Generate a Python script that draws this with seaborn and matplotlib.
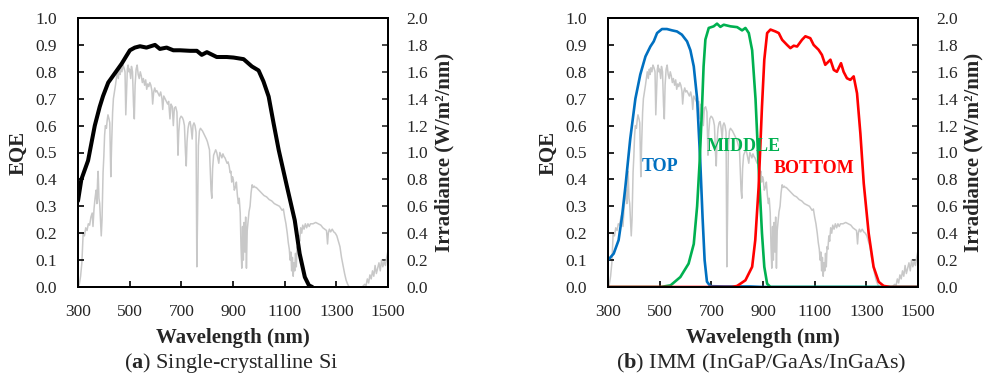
import numpy as np
import pandas as pd
import matplotlib
matplotlib.use("Agg")
import matplotlib.pyplot as plt
import seaborn as sns

# AM1.5G solar irradiance (W/m2/nm)
irr_wl = [300, 305, 310, 315, 320, 325, 330, 335, 340, 345, 350, 355, 358, 362, 366, 370, 373, 376, 378, 381,
          384, 388, 390, 393, 397, 400, 403, 406, 410, 413, 416, 420, 423, 427, 430, 434, 437, 441, 445, 449,
          452, 456, 460, 463, 466, 470, 474, 478, 482, 485, 488, 491, 494, 497, 500, 504, 507, 511, 515, 518,
          521, 525, 529, 533, 537, 541, 545, 549, 553, 558, 562, 566, 570, 574, 578, 582, 586, 589, 593, 597,
          601, 605, 610, 615, 620, 625, 628, 632, 637, 642, 647, 651, 656, 660, 665, 669, 673, 678, 683, 687,
          690, 694, 699, 704, 708, 712, 716, 719, 722, 726, 730, 734, 738, 742, 745, 749, 753, 757, 760, 763,
          766, 770, 774, 778, 782, 787, 792, 797, 801, 805, 809, 812, 815, 818, 821, 825, 829, 833, 837, 841,
          845, 849, 853, 857, 861, 865, 869, 873, 877, 881, 885, 889, 892, 895, 898, 901, 905, 909, 913, 917,
          921, 924, 928, 931, 934, 937, 940, 943, 946, 949, 952, 955, 958, 962, 966, 970, 974, 978, 982, 986,
          990, 995, 1000, 1010, 1020, 1030, 1040, 1050, 1060, 1070, 1080, 1090, 1095, 1100, 1105, 1110, 1114, 1118, 1121, 1124,
          1127, 1130, 1133, 1136, 1139, 1142, 1145, 1148, 1151, 1155, 1158, 1162, 1166, 1170, 1175, 1180, 1185, 1190, 1195, 1200,
          1210, 1220, 1230, 1240, 1248, 1255, 1262, 1266, 1269, 1273, 1278, 1284, 1290, 1296, 1302, 1308, 1314, 1320, 1326, 1332,
          1338, 1344, 1350, 1360, 1380, 1400, 1410, 1415, 1420, 1425, 1430, 1435, 1440, 1445, 1450, 1455, 1460, 1465, 1470, 1475,
          1480, 1485, 1490, 1495, 1500]
irr_val = [0.00, 0.02, 0.08, 0.18, 0.40, 0.38, 0.44, 0.42, 0.47, 0.46, 0.52, 0.55, 0.45, 0.58, 0.66, 0.72, 0.62, 0.80, 0.86, 0.66,
           0.62, 0.45, 0.38, 0.50, 0.85, 0.97, 1.13, 1.20, 1.18, 1.24, 1.28, 1.25, 1.22, 0.82, 1.05, 1.30, 1.40, 1.45, 1.50, 1.56,
           1.60, 1.55, 1.62, 1.58, 1.63, 1.60, 1.65, 1.63, 1.60, 1.28, 1.45, 1.62, 1.65, 1.60, 1.62, 1.55, 1.64, 1.60, 1.35, 1.25,
           1.50, 1.62, 1.65, 1.58, 1.55, 1.60, 1.57, 1.52, 1.55, 1.50, 1.54, 1.47, 1.51, 1.49, 1.52, 1.50, 1.46, 1.36, 1.45, 1.48,
           1.45, 1.46, 1.44, 1.42, 1.45, 1.40, 1.32, 1.42, 1.40, 1.38, 1.36, 1.38, 1.25, 1.36, 1.34, 1.20, 1.33, 1.34, 1.30, 0.98,
           1.15, 1.25, 1.27, 1.26, 1.24, 1.20, 1.00, 0.90, 1.08, 1.18, 1.22, 1.23, 1.18, 1.10, 1.20, 1.22, 1.20, 1.15, 0.15, 0.55,
           1.05, 1.16, 1.18, 1.17, 1.16, 1.14, 1.12, 1.10, 1.08, 1.05, 1.02, 0.88, 0.72, 0.66, 0.88, 0.98, 1.00, 1.02, 1.00, 0.96,
           0.92, 1.00, 0.98, 0.96, 0.99, 0.97, 0.96, 0.94, 0.92, 0.93, 0.90, 0.85, 0.86, 0.78, 0.82, 0.80, 0.72, 0.74, 0.78, 0.68,
           0.62, 0.66, 0.55, 0.30, 0.14, 0.45, 0.20, 0.48, 0.26, 0.52, 0.14, 0.42, 0.48, 0.56, 0.60, 0.70, 0.76, 0.74, 0.75, 0.74,
           0.74, 0.73, 0.72, 0.70, 0.68, 0.67, 0.65, 0.64, 0.62, 0.61, 0.60, 0.57, 0.58, 0.52, 0.47, 0.40, 0.33, 0.28, 0.20, 0.26,
           0.12, 0.22, 0.08, 0.18, 0.12, 0.25, 0.15, 0.30, 0.28, 0.38, 0.34, 0.44, 0.40, 0.46, 0.43, 0.47, 0.44, 0.47, 0.45, 0.47,
           0.47, 0.48, 0.47, 0.46, 0.44, 0.43, 0.42, 0.32, 0.40, 0.43, 0.41, 0.43, 0.41, 0.40, 0.38, 0.34, 0.30, 0.22, 0.16, 0.10,
           0.05, 0.02, 0.00, 0.00, 0.00, 0.00, 0.02, 0.01, 0.06, 0.03, 0.09, 0.06, 0.12, 0.08, 0.16, 0.10, 0.14, 0.18, 0.12, 0.20,
           0.15, 0.19, 0.16, 0.22, 0.27]

# Single-crystalline Si EQE
si_wl = [300, 313, 339, 365, 384, 397, 417, 443, 469, 488, 501, 520, 540, 565, 598, 617, 643, 669, 695, 734,
         760, 779, 799, 837, 876, 902, 941, 973, 999, 1018, 1038, 1057, 1077, 1109, 1139, 1158, 1178, 1194, 1207]
si_eqe = [0.32, 0.40, 0.47, 0.60, 0.67, 0.71, 0.76, 0.795, 0.83, 0.86, 0.88, 0.89, 0.895, 0.89, 0.90, 0.885, 0.89, 0.88, 0.88, 0.878,
          0.878, 0.863, 0.873, 0.855, 0.855, 0.853, 0.847, 0.82, 0.805, 0.764, 0.708, 0.609, 0.509, 0.373, 0.248, 0.124, 0.037, 0.006, 0.0]

# IMM triple junction EQE
top_wl = [300, 322, 341, 354, 367, 386, 406, 425, 445, 464, 477, 490, 509, 528, 548, 567, 586, 606, 619, 632,
          645, 657, 666, 674, 683, 696, 750, 800, 850, 900, 1500]
top_eqe = [0.10, 0.124, 0.174, 0.26, 0.37, 0.55, 0.70, 0.79, 0.857, 0.894, 0.913, 0.944, 0.959, 0.959, 0.954, 0.95, 0.938, 0.913, 0.88, 0.82,
           0.70, 0.47, 0.26, 0.10, 0.02, 0.003, 0.002, 0.002, 0.002, 0.0, 0.0]

mid_wl = [300, 503, 542, 580, 612, 632, 645, 655, 664, 670, 677, 690, 709, 722, 735, 748, 774, 800, 819, 832,
          845, 858, 871, 883, 896, 905, 916, 929, 1500]
mid_eqe = [0.0, 0.0, 0.006, 0.037, 0.087, 0.16, 0.30, 0.47, 0.67, 0.82, 0.92, 0.963, 0.969, 0.979, 0.967, 0.975, 0.969, 0.966, 0.954, 0.963,
           0.944, 0.88, 0.70, 0.447, 0.20, 0.075, 0.012, 0.0, 0.0]

bot_wl = [300, 780, 800, 832, 858, 870, 883, 896, 905, 916, 929, 948, 961, 974, 993, 1006, 1019, 1032, 1051, 1064,
          1083, 1096, 1115, 1128, 1141, 1161, 1174, 1186, 1202, 1212, 1225, 1238, 1251, 1264, 1277, 1290, 1309, 1328, 1348, 1367,
          1393, 1500]
bot_eqe = [0.0, 0.0, 0.004, 0.025, 0.075, 0.174, 0.37, 0.67, 0.845, 0.944, 0.957, 0.95, 0.944, 0.919, 0.90, 0.888, 0.897, 0.894, 0.919, 0.932,
           0.925, 0.90, 0.882, 0.863, 0.826, 0.845, 0.807, 0.80, 0.832, 0.80, 0.776, 0.77, 0.783, 0.72, 0.57, 0.385, 0.20, 0.075, 0.019, 0.004,
           0.0, 0.0]

sns.set_style("white")
plt.rcParams["font.family"] = ["Liberation Serif", "DejaVu Serif"]
plt.rcParams["mathtext.fontset"] = "custom"
plt.rcParams["mathtext.rm"] = "Liberation Serif"
plt.rcParams["mathtext.bf"] = "Liberation Serif:bold"

GRAY = "#c8c8c8"
W, H = 984, 380
fig = plt.figure(figsize=(9.84, 3.8), dpi=100)


def make_panel(left, caption, eqe_x, irr_x):
    ax = fig.add_axes([left / W, 1 - 287 / H, 310 / W, 269 / H])
    ax2 = ax.twinx()
    sns.lineplot(x=irr_wl, y=irr_val, ax=ax2, color=GRAY, linewidth=1.1, sort=False)
    ax.set_zorder(ax2.get_zorder() + 1)
    ax.patch.set_visible(False)

    ax.set_xlim(300, 1500)
    ax.set_ylim(0, 1.0)
    ax2.set_ylim(0, 2.0)
    ax.set_xticks(range(300, 1501, 200))
    ax.set_yticks(np.arange(0, 1.01, 0.1))
    ax2.set_yticks(np.arange(0, 2.01, 0.2))
    ax.set_yticklabels([f"{v:.1f}" for v in np.arange(0, 1.01, 0.1)])
    ax2.set_yticklabels([f"{v:.1f}" for v in np.arange(0, 2.01, 0.2)])

    ax.tick_params(axis="both", direction="in", length=4, width=1.2, labelsize=12.5, color="black")
    ax.tick_params(axis="y", pad=15, left=True)
    ax.tick_params(axis="x", pad=12, bottom=True)
    ax2.tick_params(axis="y", direction="in", length=4, width=1.2, labelsize=12.5, pad=13, right=True)
    for a in (ax, ax2):
        for s in a.spines.values():
            s.set_linewidth(1.4)
            s.set_color("black")
    ax.set_xlabel("")
    ax.set_ylabel("")
    ax2.set_ylabel("")

    fig.text((left + 155) / W, 1 - 338 / H, "Wavelength (nm)", ha="center", va="center",
             fontsize=15, fontweight="bold")
    fig.text(eqe_x / W, 1 - 153 / H, "EQE", ha="center", va="center", rotation=90,
             fontsize=15, fontweight="bold")
    fig.text(irr_x / W, 1 - 152 / H, "Irradiance (W/m\u00b2/nm)", ha="center", va="center", rotation=90,
             fontsize=15, fontweight="bold")
    fig.text((left + 153) / W, 1 - 363 / H, caption, ha="center", va="center", fontsize=16)
    return ax


ax_a = make_panel(78, r"($\mathbf{a}$) Single-crystalline Si", 19, 444)
sns.lineplot(x=si_wl, y=si_eqe, ax=ax_a, color="black", linewidth=2.9, sort=False)

ax_b = make_panel(608, r"($\mathbf{b}$) IMM (InGaP/GaAs/InGaAs)", 549, 973)
sns.lineplot(x=top_wl, y=top_eqe, ax=ax_b, color="#0070c0", linewidth=1.9, sort=False)
sns.lineplot(x=mid_wl, y=mid_eqe, ax=ax_b, color="#00b050", linewidth=1.9, sort=False)
sns.lineplot(x=bot_wl, y=bot_eqe, ax=ax_b, color="#ff0000", linewidth=1.9, sort=False)
ax_b.set_xlim(300, 1500)
ax_b.set_ylim(0, 1.0)
ax_b.text(501, 0.447, "TOP", color="#0070c0", fontsize=13, fontweight="bold", ha="center", va="center")
ax_b.text(826, 0.522, "MIDDLE", color="#00b050", fontsize=13, fontweight="bold", ha="center", va="center")
ax_b.text(1096, 0.441, "BOTTOM", color="#ff0000", fontsize=13, fontweight="bold", ha="center", va="center")

fig.savefig("out.png", dpi=100)
